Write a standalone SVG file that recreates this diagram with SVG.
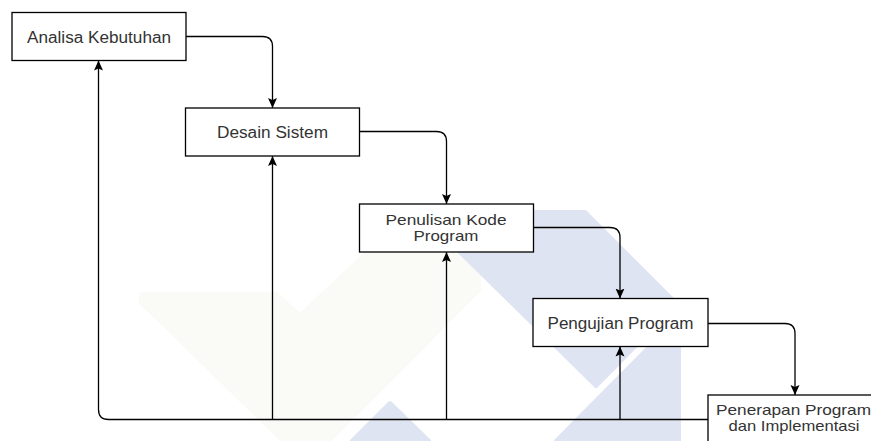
<svg xmlns="http://www.w3.org/2000/svg" width="871" height="441" viewBox="0 0 871 441">
  <style>
    .box { fill: #ffffff; stroke: #000000; stroke-width: 1.3; }
    .lbl { font-family: "Liberation Sans", Arial, sans-serif; font-size: 16px; fill: #333333; text-anchor: middle; }
    .lbl2 { font-size: 14.5px; }
    .edge { fill: none; stroke: #000000; stroke-width: 1.3; }
    .wm-blue { fill: #dee4f1; stroke: #dee4f1; stroke-width: 4; stroke-linejoin: round; }
    .wm-grey { fill: #fafaf7; stroke: #fafaf7; stroke-width: 6; stroke-linejoin: round; }
  </style>
  <defs>
    <marker id="arrow" viewBox="0 0 10 10" refX="10" refY="5" markerWidth="10" markerHeight="10" markerUnits="userSpaceOnUse" orient="auto">
      <path d="M0,0.5 L10,5 L0,9.5 L2,5 z" fill="#000000"/>
    </marker>
  </defs>

  <rect x="0" y="0" width="871" height="441" fill="#ffffff"/>

  <!-- faint background logo -->
  <g id="backdrop">
    <polygon class="wm-grey" points="142,295 276,295 300,317 390,232 478,232 478,290 306,462 142,302"/>
    <polygon class="wm-blue" points="419,212 585,212 677,304 596,386"/>
    <polygon class="wm-blue" points="556,441 679,317 679,441"/>
    <polygon class="wm-blue" points="352,441 390,403 429,441"/>
  </g>

  <!-- connectors -->
  <g id="connectors">
    <path class="edge" d="M186,36.5 H262.5 Q272.5,36.5 272.5,46.5 V108" marker-end="url(#arrow)"/>
    <path class="edge" d="M359,131.5 H436.5 Q446.5,131.5 446.5,141.5 V204" marker-end="url(#arrow)"/>
    <path class="edge" d="M533,227.5 H610 Q620,227.5 620,237.5 V298.5" marker-end="url(#arrow)"/>
    <path class="edge" d="M708,323.5 H785 Q795,323.5 795,333.5 V395" marker-end="url(#arrow)"/>
    <path class="edge" d="M708,419.5 H108.5 Q98.5,419.5 98.5,409.5 V60.5" marker-end="url(#arrow)"/>
    <path class="edge" d="M272.5,419.5 V156" marker-end="url(#arrow)"/>
    <path class="edge" d="M446.5,419.5 V252" marker-end="url(#arrow)"/>
    <path class="edge" d="M620,419.5 V346.5" marker-end="url(#arrow)"/>
  </g>

  <g id="analisa-kebutuhan">
    <rect class="box" x="12" y="12.5" width="174" height="48"/>
    <text class="lbl" x="99" y="42.5" textLength="144" lengthAdjust="spacingAndGlyphs">Analisa Kebutuhan</text>
  </g>

  <g id="desain-sistem">
    <rect class="box" x="185.5" y="108" width="174" height="48"/>
    <text class="lbl" x="272.5" y="138" textLength="111" lengthAdjust="spacingAndGlyphs">Desain Sistem</text>
  </g>

  <g id="penulisan-kode">
    <rect class="box" x="359.5" y="204" width="174" height="48"/>
    <text class="lbl lbl2" x="446" y="224.5" textLength="121" lengthAdjust="spacingAndGlyphs">Penulisan Kode</text>
    <text class="lbl lbl2" x="446" y="241" textLength="65" lengthAdjust="spacingAndGlyphs">Program</text>
  </g>

  <g id="pengujian-program">
    <rect class="box" x="533" y="298.5" width="175" height="48"/>
    <text class="lbl" x="620.5" y="328.5" textLength="146" lengthAdjust="spacingAndGlyphs">Pengujian Program</text>
  </g>

  <g id="penerapan-program">
    <rect class="box" x="708" y="395" width="174" height="48"/>
    <text class="lbl lbl2" x="793.5" y="414.5" textLength="155" lengthAdjust="spacingAndGlyphs">Penerapan Program</text>
    <text class="lbl lbl2" x="794" y="431" textLength="131" lengthAdjust="spacingAndGlyphs">dan Implementasi</text>
  </g>
</svg>
